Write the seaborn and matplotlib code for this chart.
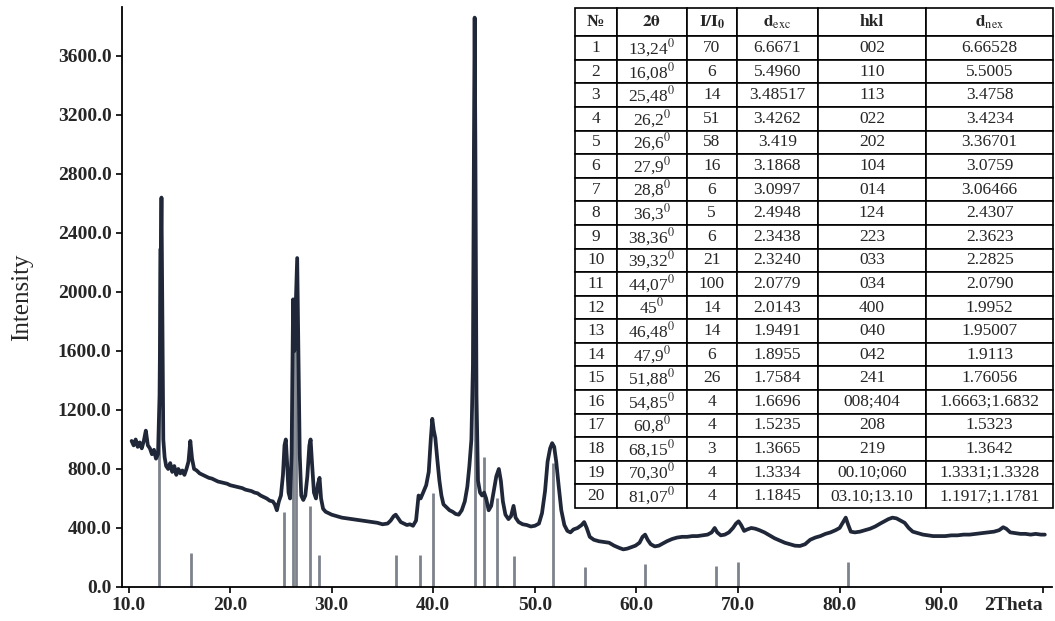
import matplotlib
matplotlib.use("Agg")
import matplotlib.pyplot as plt
import seaborn as sns
from matplotlib.ticker import FormatStrFormatter

two_theta = [10.3, 10.5, 10.7, 10.9, 11.1, 11.3, 11.5, 11.7, 11.9, 12.1, 12.3, 12.5, 12.7, 12.9,
             13.05, 13.15, 13.24, 13.32, 13.42, 13.55, 13.7, 13.9, 14.1, 14.3, 14.5, 14.7, 14.9,
             15.1, 15.3, 15.5, 15.7, 15.9, 16.08, 16.25, 16.45, 16.7, 17.0, 17.3, 17.6, 17.9,
             18.2, 18.5, 18.8, 19.1, 19.4, 19.7, 20.0, 20.3, 20.6, 20.9, 21.2, 21.5, 21.8, 22.1,
             22.4, 22.7, 23.0, 23.3, 23.6, 23.9, 24.2, 24.4, 24.6, 24.8, 25.0, 25.2, 25.35, 25.48,
             25.6, 25.75, 25.9, 26.05, 26.2, 26.32, 26.45, 26.6, 26.72, 26.85, 27.0, 27.2, 27.4,
             27.6, 27.8, 27.92, 28.05, 28.25, 28.45, 28.65, 28.8, 28.95, 29.15, 29.4, 29.7, 30.0,
             30.5, 31.0, 31.5, 32.0, 32.5, 33.0, 33.5, 34.0, 34.5, 35.0, 35.5, 35.8, 36.1, 36.3,
             36.5, 36.8, 37.1, 37.4, 37.7, 38.0, 38.3, 38.55, 38.75, 39.0, 39.3, 39.55, 39.75,
             39.9, 40.05, 40.2, 40.4, 40.6, 40.8, 41.0, 41.3, 41.6, 41.9, 42.2, 42.5, 42.8, 43.1,
             43.35, 43.55, 43.75, 43.9, 44.0, 44.07, 44.14, 44.25, 44.4, 44.6, 44.8, 45.0, 45.2,
             45.45, 45.7, 45.95, 46.2, 46.45, 46.65, 46.85, 47.1, 47.4, 47.65, 47.9, 48.1, 48.4,
             48.8, 49.2, 49.6, 50.0, 50.4, 50.7, 51.0, 51.25, 51.5, 51.7, 51.9, 52.1, 52.35, 52.6,
             52.9, 53.2, 53.5, 53.8, 54.2, 54.6, 54.85, 55.1, 55.4, 55.8, 56.3, 56.8, 57.3, 57.8,
             58.3, 58.7, 59.1, 59.5, 59.9, 60.3, 60.6, 60.85, 61.1, 61.4, 61.8, 62.2, 62.6, 63.0,
             63.5, 64.0, 64.5, 65.0, 65.5, 66.0, 66.5, 67.0, 67.4, 67.7, 67.95, 68.3, 68.7, 69.1,
             69.5, 69.8, 70.05, 70.3, 70.6, 70.9, 71.3, 71.7, 72.1, 72.6, 73.1, 73.6, 74.1, 74.6,
             75.1, 75.6, 76.1, 76.6, 77.1, 77.6, 78.1, 78.6, 79.1, 79.6, 80.0, 80.35, 80.6, 80.85,
             81.1, 81.5, 82.0, 82.5, 83.0, 83.5, 84.0, 84.4, 84.8, 85.2, 85.6, 86.0, 86.4, 86.8,
             87.2, 87.7, 88.2, 88.7, 89.2, 89.8, 90.4, 91.0, 91.6, 92.2, 92.8, 93.4, 94.0, 94.6,
             95.2, 95.7, 96.1, 96.4, 96.8, 97.3, 97.8, 98.3, 98.8, 99.3, 99.8, 100.2]
intensity = [990, 960, 1000, 950, 980, 940, 990, 1060, 960, 940, 900, 930, 870, 900,
             1300, 2100, 2640, 1900, 1000, 880, 820, 800, 840, 780, 820, 760, 800,
             770, 790, 760, 800, 850, 990, 870, 800, 790, 770, 760, 750, 740,
             735, 725, 715, 710, 705, 700, 690, 685, 680, 675, 670, 660, 655, 650,
             640, 635, 620, 610, 600, 585, 580, 560, 520, 580, 620, 760, 960, 1000,
             850, 640, 600, 900, 1950, 1600, 1900, 2230, 1600, 900, 620, 590, 620,
             750, 960, 1000, 850, 640, 600, 700, 740, 600, 530, 510, 500, 490,
             480, 470, 465, 460, 455, 450, 445, 440, 435, 425, 430, 450, 480, 490,
             470, 440, 430, 420, 425, 415, 450, 620, 600, 640, 690, 780, 1000,
             1140, 1060, 1010, 860, 720, 620, 560, 540, 520, 510, 495, 490, 520, 580,
             680, 820, 1000, 1500, 3000, 3860, 3000, 1300, 720, 640, 620, 640, 600,
             520, 550, 650, 750, 800, 720, 580, 490, 460, 480, 550, 470, 440,
             425, 420, 410, 415, 430, 500, 650, 850, 940, 975, 950, 850, 680, 520,
             420, 380, 370, 390, 400, 420, 440, 400, 340, 320, 310, 305, 300, 280,
             265, 255, 260, 270, 280, 300, 340, 355, 320, 290, 275, 280, 295, 310,
             325, 335, 340, 340, 345, 345, 350, 355, 370, 400, 370, 350, 355, 370,
             400, 430, 445, 420, 380, 390, 400, 395, 385, 370, 350, 330, 315, 300,
             290, 280, 278, 290, 320, 335, 345, 360, 370, 385, 400, 440, 470, 420,
             375, 370, 375, 385, 395, 410, 430, 445, 460, 470, 465, 450, 435, 400,
             375, 365, 355, 350, 345, 345, 345, 350, 350, 355, 355, 360, 365, 370,
             375, 385, 405, 395, 370, 365, 360, 360, 355, 360, 355, 355]

# reference pattern sticks
stick_pos = [13.0, 16.1, 25.3, 26.2, 26.5, 27.9, 28.7, 36.3, 38.7, 40.0, 44.1, 45.0, 46.3,
             47.95, 51.75, 54.9, 60.8, 67.8, 70.0, 80.8]
stick_height = [2300, 230, 510, 1900, 1950, 550, 220, 220, 220, 640, 2700, 880, 600,
                210, 840, 135, 155, 140, 170, 170]

# table of peaks
col_labels = ["№", r"$\mathbf{2\theta}$", r"$\mathbf{I/I_0}$", r"$\mathbf{d}_{\mathrm{exc}}$",
              "hkl", r"$\mathbf{d}_{\mathrm{nex}}$"]
peak_no = [str(i) for i in range(1, 21)]
peak_2theta = ["13,24", "16,08", "25,48", "26,2", "26,6", "27,9", "28,8", "36,3", "38,36",
               "39,32", "44,07", "45", "46,48", "47,9", "51,88", "54,85", "60,8", "68,15",
               "70,30", "81,07"]
peak_rel = ["70", "6", "14", "51", "58", "16", "6", "5", "6", "21", "100", "14", "14", "6",
            "26", "4", "4", "3", "4", "4"]
d_exc = ["6.6671", "5.4960", "3.48517", "3.4262", "3.419", "3.1868", "3.0997", "2.4948",
         "2.3438", "2.3240", "2.0779", "2.0143", "1.9491", "1.8955", "1.7584", "1.6696",
         "1.5235", "1.3665", "1.3334", "1.1845"]
hkl = ["002", "110", "113", "022", "202", "104", "014", "124", "223", "033", "034", "400",
       "040", "042", "241", "008;404", "208", "219", "00.10;060", "03.10;13.10"]
d_nex = ["6.66528", "5.5005", "3.4758", "3.4234", "3.36701", "3.0759", "3.06466", "2.4307",
         "2.3623", "2.2825", "2.0790", "1.9952", "1.95007", "1.9113", "1.76056",
         "1.6663;1.6832", "1.5323", "1.3642", "1.3331;1.3328", "1.1917;1.1781"]

sns.set_style("ticks")
plt.rcParams["font.family"] = ["Liberation Serif", "DejaVu Serif"]
plt.rcParams["mathtext.fontset"] = "stix"

fig = plt.figure(figsize=(10.55, 6.21), dpi=100)
ax = fig.add_axes([0.1156, 0.0548, 0.8815, 0.9339])

ax.vlines(stick_pos, 0, stick_height, color="#7d838c", lw=2.0, zorder=1)
sns.lineplot(x=two_theta, y=intensity, ax=ax, color="#1f2738", lw=2.7, zorder=2)

ax.set_xlim(9.35, 100.9)
ax.set_ylim(0, 3932)
ax.set_yticks(range(0, 3601, 400))
ax.yaxis.set_major_formatter(FormatStrFormatter("%.1f"))
ax.set_xticks(range(10, 101, 10))
ax.set_xticklabels(["10.0", "20.0", "30.0", "40.0", "50.0", "60.0", "70.0", "80.0", "90.0",
                    "2Theta"])
ax.get_xticklabels()[-1].set_horizontalalignment("right")
for lab in ax.get_xticklabels() + ax.get_yticklabels():
    lab.set_fontweight("bold")
    lab.set_fontsize(14)
ax.tick_params(axis="both", length=4, width=1.2, color="black")
ax.set_ylabel("Intensity", fontsize=18, labelpad=18)
sns.despine(ax=ax)
for s in ["left", "bottom"]:
    ax.spines[s].set_color("black")
    ax.spines[s].set_linewidth(1.3)

# table in the upper right
tax = fig.add_axes([575 / 1055, 1 - 508 / 621, 478 / 1055, 500 / 621])
tax.axis("off")
rows = []
for i in range(20):
    rows.append([peak_no[i], peak_2theta[i] + r"$^{0}$", peak_rel[i],
                 d_exc[i], hkl[i], d_nex[i]])
col_w = [0.087, 0.147, 0.104, 0.170, 0.227, 0.265]
tbl = tax.table(cellText=rows, colLabels=col_labels, colWidths=col_w,
                cellLoc="center", bbox=[0, 0, 1, 1])
tbl.auto_set_font_size(False)
tbl.set_fontsize(12.5)
for (r, c), cell in tbl.get_celld().items():
    cell.set_edgecolor("black")
    cell.set_linewidth(1.2)
    if r == 0:
        cell.set_height(cell.get_height() * 1.2)
        cell.get_text().set_fontweight("bold")

fig.savefig("out.png", dpi=100)
